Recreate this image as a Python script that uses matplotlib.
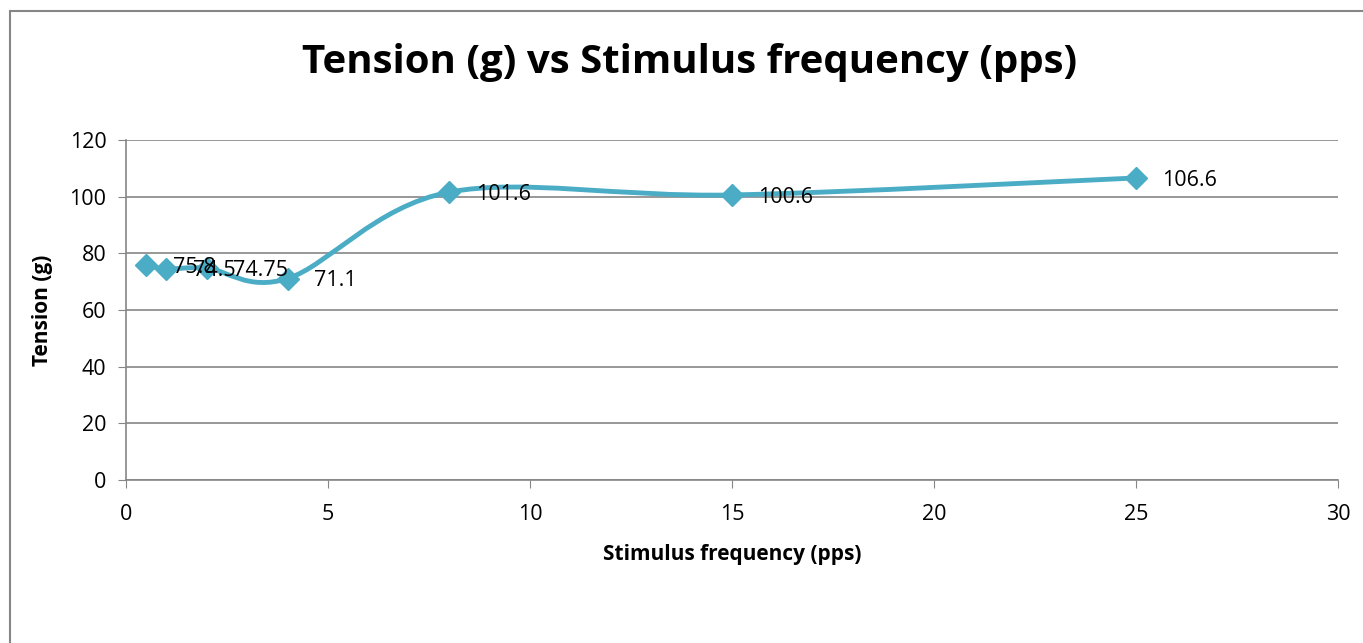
import numpy as np
import matplotlib.pyplot as plt
from matplotlib.path import Path
from matplotlib.patches import PathPatch, Rectangle

# Stimulus frequency (pps) and measured tension (g)
freq = [0.5, 1, 2, 4, 8, 15, 25]
tension = [75.8, 74.5, 74.75, 71.1, 101.6, 100.6, 106.6]
labels = ["75.8", "74.5", "74.75", "71.1", "101.6", "100.6", "106.6"]

line_color = "#4BACC6"
grid_color = "#868686"

plt.rcParams['font.family'] = ['Open Sans', 'DejaVu Sans']

fig = plt.figure(figsize=(13.63, 6.43), dpi=100)
ax = fig.add_axes([0.0924, 0.2535, 0.8893, 0.5288])

# outer chart frame (runs off the right and bottom edges)
fig.patches.append(Rectangle((10 / 1363, -0.2), 1.5, 1.2 - 11 / 643,
                             transform=fig.transFigure, fill=False,
                             edgecolor=grid_color, linewidth=1.5))


def smooth_path(xs, ys):
    # Catmull-Rom style Bezier through the points, like a spreadsheet "smoothed line"
    pts = np.column_stack([xs, ys]).astype(float)
    n = len(pts)
    verts = [pts[0]]
    codes = [Path.MOVETO]
    for i in range(n - 1):
        p0 = pts[i - 1] if i > 0 else pts[i]
        p1 = pts[i]
        p2 = pts[i + 1]
        p3 = pts[i + 2] if i + 2 < n else pts[i + 1]
        c1 = p1 + (p2 - p0) / 6
        c2 = p2 - (p3 - p1) / 6
        verts += [c1, c2, p2]
        codes += [Path.CURVE4] * 3
    return Path(verts, codes)


ax.add_patch(PathPatch(smooth_path(freq, tension), fill=False,
                       edgecolor=line_color, linewidth=3.5, zorder=3,
                       capstyle='round', joinstyle='round'))
ax.plot(freq, tension, linestyle='none', marker='D', markersize=11.5,
        color=line_color, zorder=4)

for x, y, t in zip(freq, tension, labels):
    ax.annotate(t, (x, y), xytext=(19, -1.5), textcoords='offset points',
                va='center', ha='left', fontsize=15.5, color='black', zorder=5)

ax.set_xlim(0, 30)
ax.set_ylim(0, 120)
ax.set_xticks(np.arange(0, 31, 5))
ax.set_yticks(np.arange(0, 121, 20))
ax.grid(axis='y', color=grid_color, linewidth=1.2)
ax.set_axisbelow(True)
for side in ['top', 'right']:
    ax.spines[side].set_visible(False)
for side in ['left', 'bottom']:
    ax.spines[side].set_color(grid_color)
    ax.spines[side].set_linewidth(1.2)
ax.tick_params(axis='x', direction='out', length=6, color=grid_color,
               labelsize=15.5, pad=11)
ax.tick_params(axis='y', direction='out', length=6, color=grid_color,
               labelsize=15.5, pad=8)

ax.set_xlabel("Stimulus frequency (pps)", fontsize=15, fontweight='bold',
              labelpad=14)
ax.set_ylabel("Tension (g)", fontsize=15, fontweight='bold', labelpad=12)
fig.text(690 / 1363, 1 - 62 / 643, "Tension (g) vs Stimulus frequency (pps)",
         ha='center', va='center', fontsize=29, fontweight='bold')

fig.savefig("out.png", dpi=100)
